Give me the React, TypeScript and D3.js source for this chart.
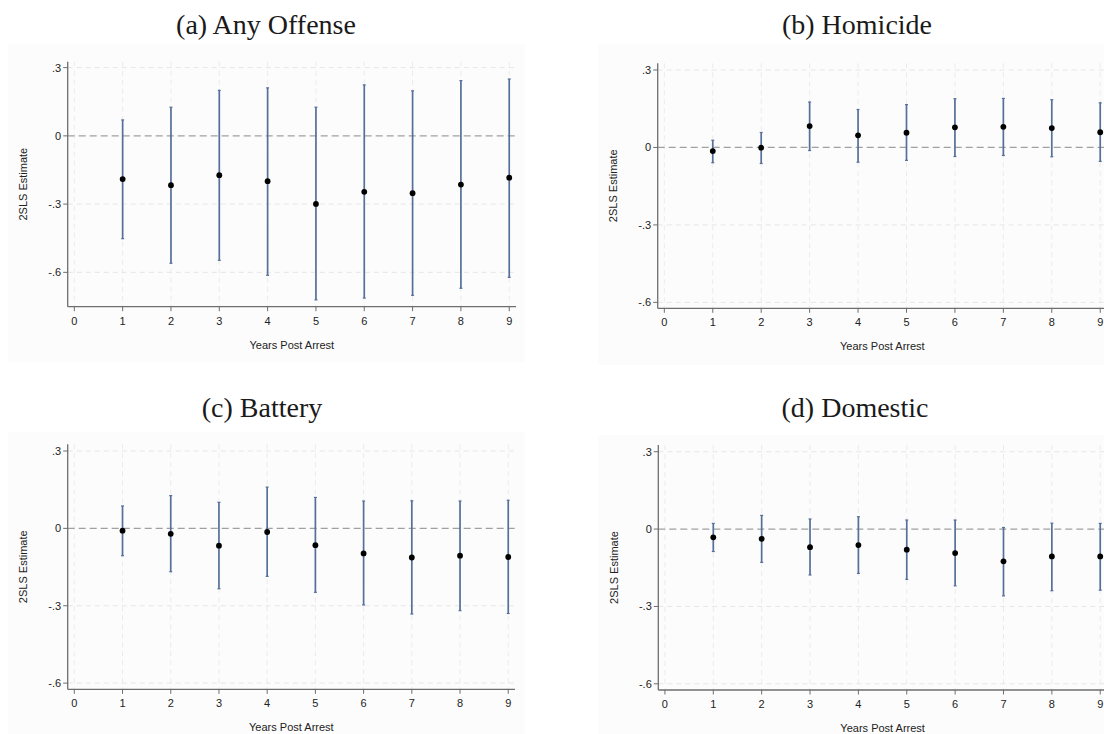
import React from "react";
import * as d3 from "d3";

const years = [1, 2, 3, 4, 5, 6, 7, 8, 9];
const xTicks = [0, 1, 2, 3, 4, 5, 6, 7, 8, 9];
const yTicks = [0.3, 0, -0.3, -0.6];
const yTickLabels = [".3", "0", "-.3", "-.6"];

const titles = ["(a) Any Offense", "(b) Homicide", "(c) Battery", "(d) Domestic"];

const anyEst = [-0.19, -0.217, -0.173, -0.199, -0.299, -0.246, -0.252, -0.214, -0.184];
const anyLo = [-0.452, -0.56, -0.547, -0.613, -0.721, -0.713, -0.701, -0.67, -0.622];
const anyHi = [0.07, 0.126, 0.2, 0.211, 0.126, 0.224, 0.198, 0.243, 0.25];

const homEst = [-0.014, -0.001, 0.083, 0.047, 0.057, 0.078, 0.08, 0.075, 0.059];
const homLo = [-0.059, -0.062, -0.012, -0.057, -0.05, -0.035, -0.031, -0.036, -0.054];
const homHi = [0.028, 0.058, 0.176, 0.147, 0.166, 0.189, 0.19, 0.185, 0.173];

const batEst = [-0.009, -0.021, -0.067, -0.014, -0.065, -0.097, -0.113, -0.106, -0.111];
const batLo = [-0.106, -0.168, -0.234, -0.186, -0.248, -0.297, -0.332, -0.319, -0.33];
const batHi = [0.087, 0.127, 0.101, 0.16, 0.12, 0.106, 0.107, 0.106, 0.109];

const domEst = [-0.032, -0.038, -0.07, -0.062, -0.08, -0.093, -0.125, -0.106, -0.106];
const domLo = [-0.087, -0.129, -0.178, -0.172, -0.195, -0.22, -0.259, -0.239, -0.237];
const domHi = [0.022, 0.053, 0.039, 0.048, 0.035, 0.035, 0.006, 0.023, 0.022];

const seriesEst = [anyEst, homEst, batEst, domEst];
const seriesLo = [anyLo, homLo, batLo, domLo];
const seriesHi = [anyHi, homHi, batHi, domHi];

const yDomains: [number, number][] = [
  [-0.751, 0.326],
  [-0.623, 0.326],
  [-0.624, 0.326],
  [-0.624, 0.326],
];

const layouts = [
  { x0: 67.7, x1: 516, y0: 61.7, y1: 306.7, bx: 8, by: 44, bw: 517, bh: 318, tx: 266, ty: 34 },
  { x0: 657.7, x1: 1107, y0: 63.3, y1: 308.3, bx: 598, by: 44, bw: 506, bh: 321, tx: 857, ty: 34 },
  { x0: 67.7, x1: 515, y0: 444.3, y1: 689.3, bx: 8, by: 432, bw: 517, bh: 302, tx: 262, ty: 417 },
  { x0: 658.3, x1: 1107, y0: 445, y1: 690, bx: 598, by: 435, bw: 506, bh: 299, tx: 855, ty: 417 },
];

const sans = "'Liberation Sans', Arial, sans-serif";
const serif = "'Liberation Serif', 'Times New Roman', serif";
const barColor = "#55709a";

function Panel({ i }: { i: number }) {
  const L = layouts[i];
  const x = d3.scaleLinear().domain([-0.137, 9.14]).range([L.x0, L.x1]);
  const y = d3.scaleLinear().domain(yDomains[i]).range([L.y1, L.y0]);
  const est = seriesEst[i];
  const lo = seriesLo[i];
  const hi = seriesHi[i];
  return (
    <g>
      <rect x={L.bx} y={L.by} width={L.bw} height={L.bh} fill="#fcfcfc" />
      <text x={L.tx} y={L.ty} fontFamily={serif} fontSize={28} textAnchor="middle" fill="#1a1a1a">
        {titles[i]}
      </text>
      {xTicks.map((t) => (
        <line key={"gx" + t} x1={x(t)} x2={x(t)} y1={L.y0} y2={L.y1} stroke="#ebebeb" strokeWidth={1} strokeDasharray="5 4" />
      ))}
      {yTicks.map((t) => (
        <line key={"gy" + t} x1={L.x0} x2={L.x1} y1={y(t)} y2={y(t)} stroke={t === 0 ? "#a0a0a0" : "#e6e6e6"} strokeWidth={t === 0 ? 1.3 : 1} strokeDasharray={t === 0 ? "7 4" : "5 4"} />
      ))}
      <line x1={L.x0} x2={L.x0} y1={L.y0} y2={L.y1} stroke="#6e6e6e" strokeWidth={1.3} />
      <line x1={L.x0} x2={L.x1} y1={L.y1} y2={L.y1} stroke="#6e6e6e" strokeWidth={1.3} />
      {yTicks.map((t, k) => (
        <g key={"yt" + t}>
          <line x1={L.x0 - 4.5} x2={L.x0} y1={y(t)} y2={y(t)} stroke="#6e6e6e" strokeWidth={1} />
          <text x={L.x0 - 6.5} y={y(t) + 4} fontFamily={sans} fontSize={11} textAnchor="end" fill="#222">
            {yTickLabels[k]}
          </text>
        </g>
      ))}
      {xTicks.map((t) => (
        <g key={"xt" + t}>
          <line x1={x(t)} x2={x(t)} y1={L.y1} y2={L.y1 + 4.5} stroke="#6e6e6e" strokeWidth={1} />
          <text x={x(t)} y={L.y1 + 18} fontFamily={sans} fontSize={11} textAnchor="middle" fill="#222">
            {String(t)}
          </text>
        </g>
      ))}
      <text x={(L.x0 + L.x1) / 2} y={L.y1 + 42} fontFamily={sans} fontSize={11} textAnchor="middle" fill="#222">
        Years Post Arrest
      </text>
      <text
        transform={`translate(${L.x0 - 40.5},${(L.y0 + L.y1) / 2}) rotate(-90)`}
        fontFamily={sans}
        fontSize={11}
        textAnchor="middle"
        fill="#222"
      >
        2SLS Estimate
      </text>
      {years.map((yr, k) => (
        <g key={"eb" + yr}>
          <line x1={x(yr)} x2={x(yr)} y1={y(lo[k])} y2={y(hi[k])} stroke={barColor} strokeWidth={1.7} />
          <line x1={x(yr) - 1.5} x2={x(yr) + 1.5} y1={y(lo[k])} y2={y(lo[k])} stroke={barColor} strokeWidth={1.2} />
          <line x1={x(yr) - 1.5} x2={x(yr) + 1.5} y1={y(hi[k])} y2={y(hi[k])} stroke={barColor} strokeWidth={1.2} />
          <circle cx={x(yr)} cy={y(est[k])} r={2.9} fill="#000" />
        </g>
      ))}
    </g>
  );
}

export default function App() {
  return (
    <svg width={1104} height={734} style={{ position: "absolute", left: 0, top: 0, background: "#fff" }}>
      <rect x={0} y={0} width={1104} height={734} fill="#fff" />
      {[0, 1, 2, 3].map((i) => (
        <Panel key={i} i={i} />
      ))}
    </svg>
  );
}
